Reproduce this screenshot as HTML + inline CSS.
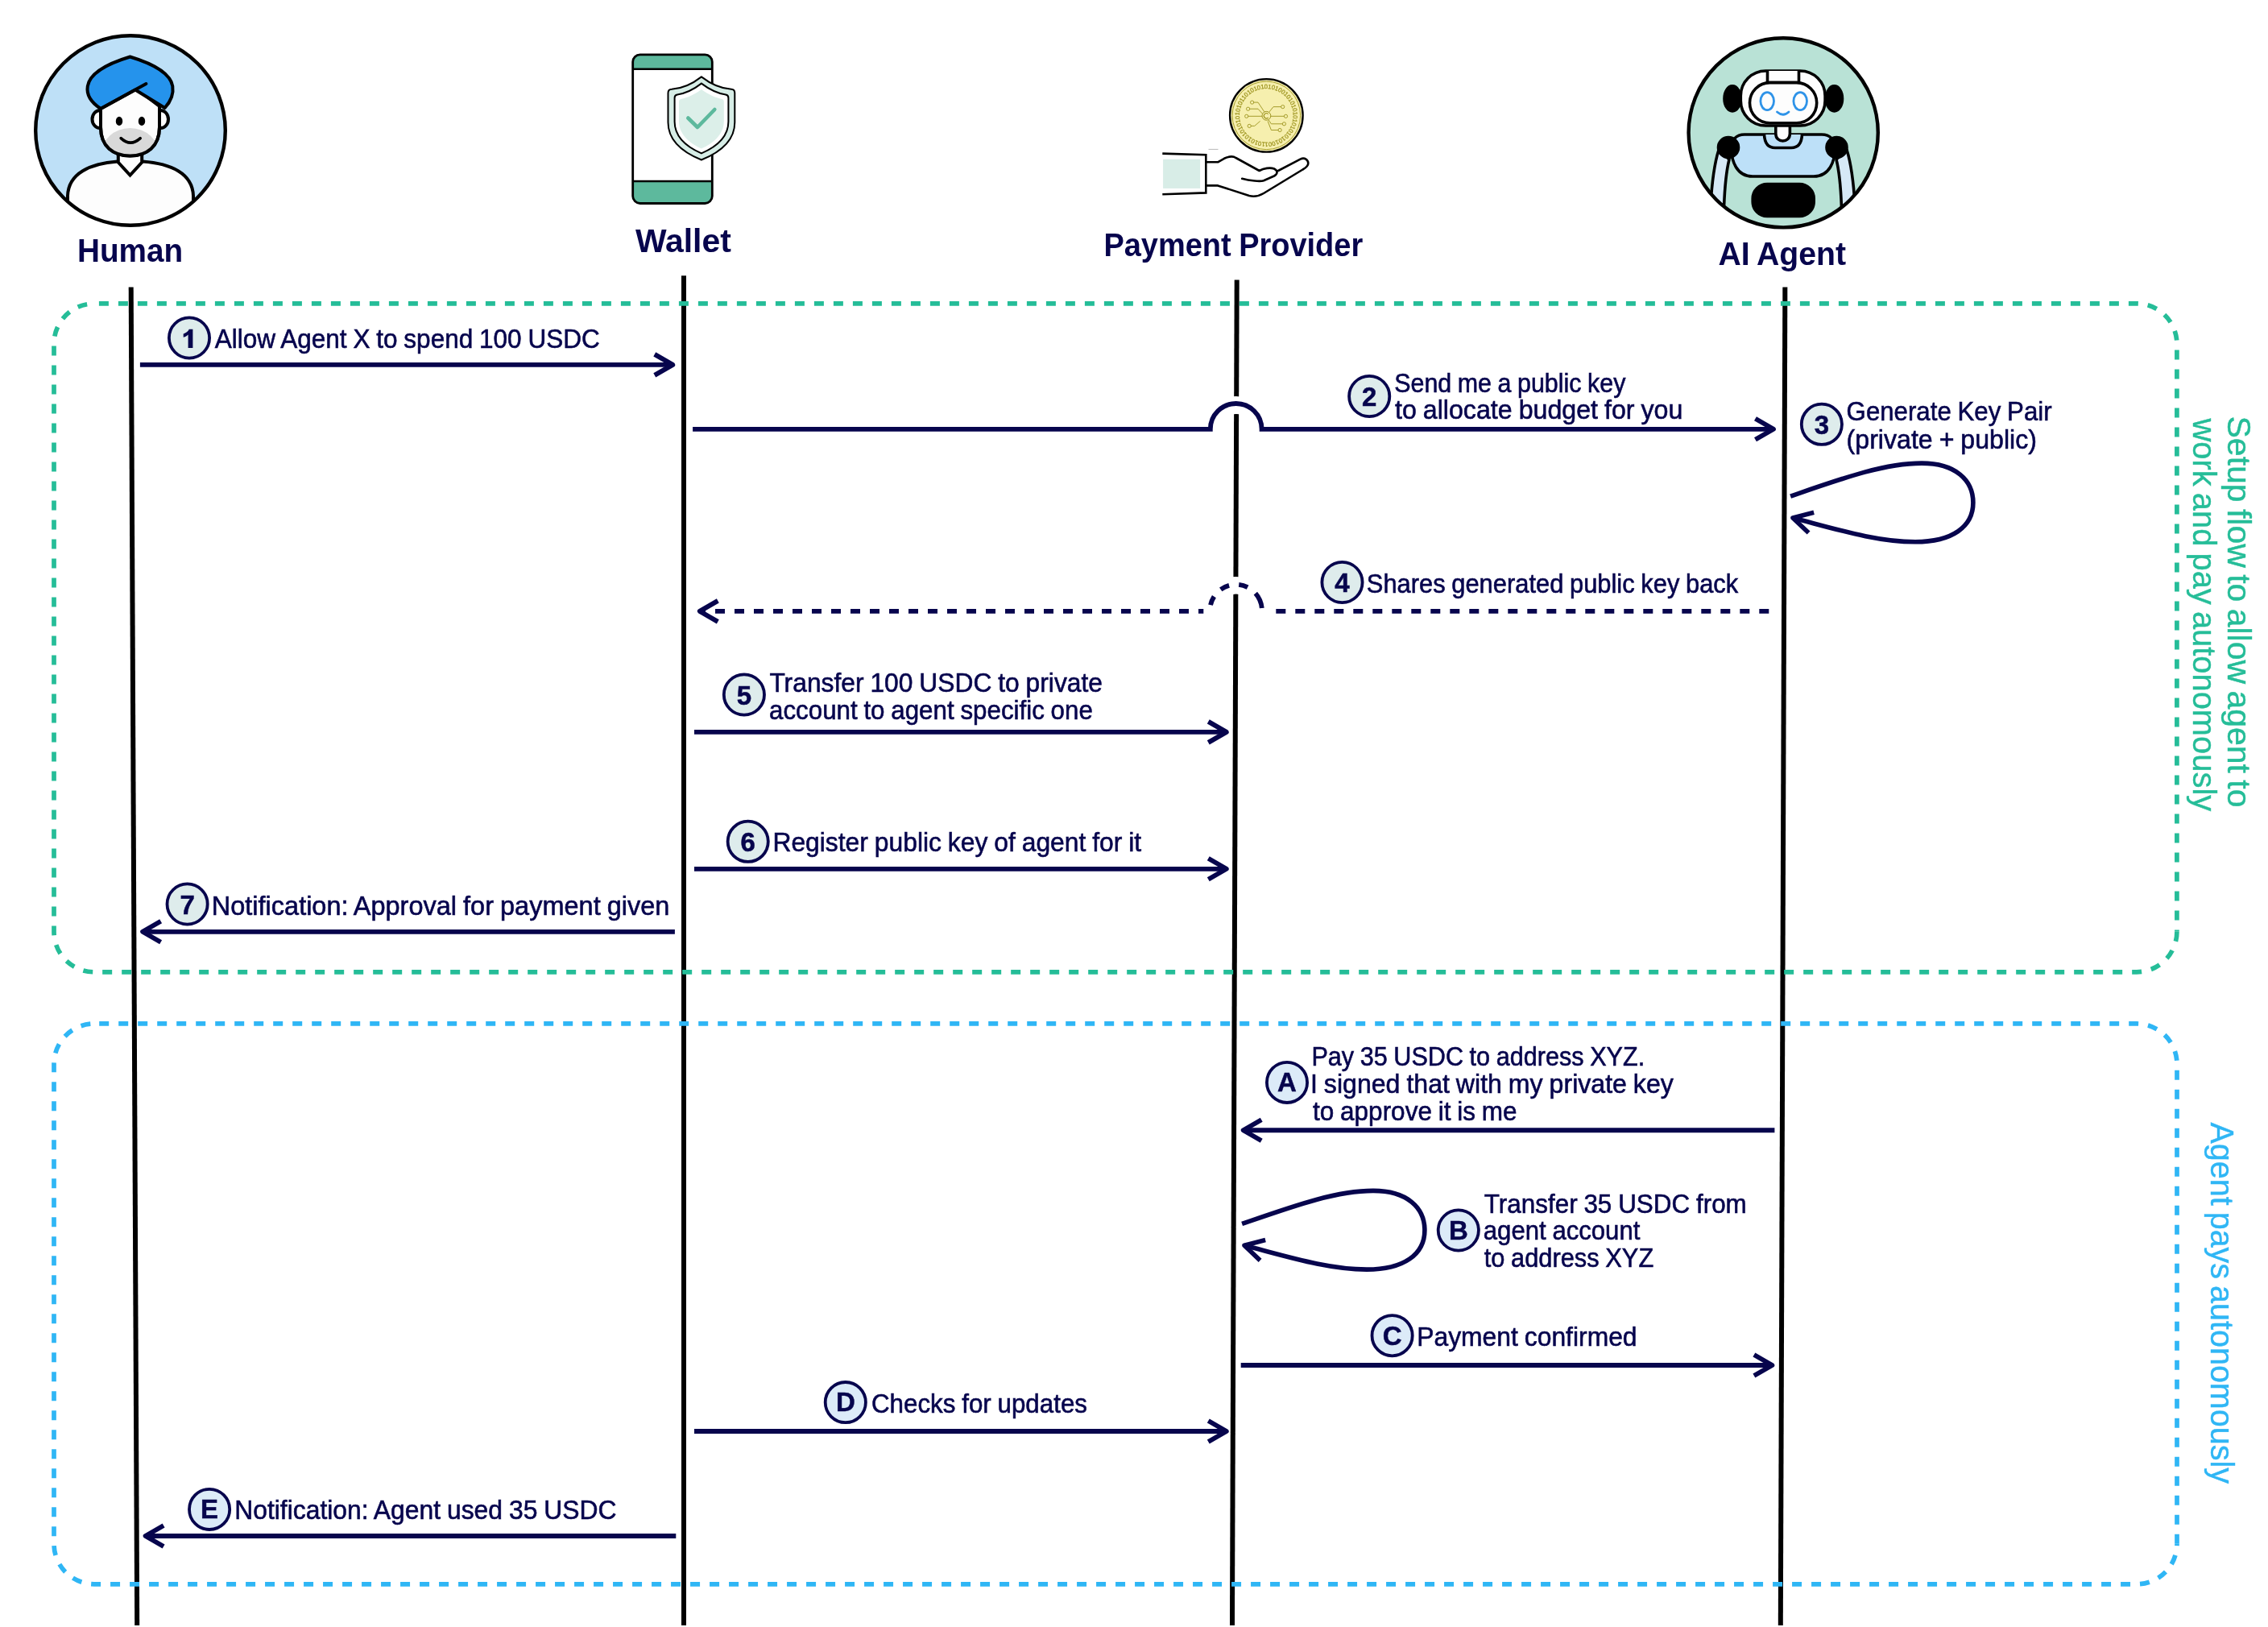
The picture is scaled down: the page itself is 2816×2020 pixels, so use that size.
<!DOCTYPE html>
<html><head><meta charset="utf-8"><title>Agent payment sequence</title>
<style>
html,body{margin:0;padding:0;background:#fff;}
body{width:2816px;height:2020px;overflow:hidden;}
svg{display:block;will-change:transform;}
svg text{font-family:"Liberation Sans",sans-serif;}
</style></head><body>
<svg width="2816" height="2020" viewBox="0 0 2816 2020">
<rect width="2816" height="2020" fill="#fff"/>
<line x1="162.7" y1="356.4" x2="170.2" y2="2018" stroke="#000" stroke-width="6.0"/>
<line x1="849.0" y1="342.2" x2="849.0" y2="2018" stroke="#000" stroke-width="6.0"/>
<line x1="1535.7" y1="347.5" x2="1529.97" y2="2018" stroke="#000" stroke-width="6.0"/>
<line x1="2216.35" y1="356.6" x2="2210.8" y2="2018" stroke="#000" stroke-width="6.0"/>
<path d="M117,376.9 H2652.9 A50,50 0 0 1 2702.9,426.9 V1156.8" fill="none" stroke="#25BD98" stroke-width="5.7" stroke-dasharray="12 12" stroke-dashoffset="18.1"/>
<path d="M2702.9,1156.8 A50,50 0 0 1 2652.9,1206.8 H117 A50,50 0 0 1 67,1156.8 V426.9 A50,50 0 0 1 117,376.9" fill="none" stroke="#25BD98" stroke-width="5.7" stroke-dasharray="12 12" stroke-dashoffset="23.86"/>
<path d="M117,1270.95 H2653 A50,50 0 0 1 2703,1320.95 V1916.8" fill="none" stroke="#2FB6F5" stroke-width="5.7" stroke-dasharray="12 12" stroke-dashoffset="17.8"/>
<path d="M2703,1916.8 A50,50 0 0 1 2653,1966.8 H117 A50,50 0 0 1 67,1916.8 V1320.95 A50,50 0 0 1 117,1270.95" fill="none" stroke="#2FB6F5" stroke-width="5.7" stroke-dasharray="12 12" stroke-dashoffset="9.66"/>
<line x1="173.9" y1="452.9" x2="835.3" y2="452.9" stroke="#07054D" stroke-width="5.85"/>
<path d="M812.78,465.90 L835.30,452.90 L812.78,439.90" fill="none" stroke="#07054D" stroke-width="5.85" stroke-linejoin="round" stroke-linecap="butt"/>
<path d="M1504.8,532.8 A29.9,29.9 0 0 1 1564.6000000000001,532.8" fill="none" stroke="#fff" stroke-width="22"/>
<path d="M860.1,532.8 L1502.8,532.8 A31.9,31.9 0 0 1 1566.6000000000001,532.8 L2202,532.8" fill="none" stroke="#07054D" stroke-width="5.85" stroke-linejoin="miter"/>
<path d="M2179.48,545.80 L2202.00,532.80 L2179.48,519.80" fill="none" stroke="#07054D" stroke-width="5.85" stroke-linejoin="round" stroke-linecap="butt"/>
<path d="M1503.3,758.0 A31.299999999999997,31.299999999999997 0 0 1 1565.8999999999999,758.0" fill="none" stroke="#fff" stroke-width="21.5"/>
<path d="M2196.3,758.9 L1584,758.9" fill="none" stroke="#07054D" stroke-width="5.85" stroke-dasharray="12 12"/>
<path d="M1566.8999999999999,758.0 A32.3,32.3 0 0 0 1502.3,758.0" fill="none" stroke="#07054D" stroke-width="5.85" stroke-dasharray="0 3 20.3 12.3 11.4 12.3 11.5 12.1 11.5 100"/>
<path d="M1494.3,758.9 L868.8,758.9" fill="none" stroke="#07054D" stroke-width="5.85" stroke-dasharray="12 12" stroke-dashoffset="5.7"/>
<path d="M891.32,745.90 L868.80,758.90 L891.32,771.90" fill="none" stroke="#07054D" stroke-width="5.85" stroke-linejoin="round" stroke-linecap="butt"/>
<line x1="862" y1="908.9" x2="1522.8" y2="908.9" stroke="#07054D" stroke-width="5.85"/>
<path d="M1500.28,921.90 L1522.80,908.90 L1500.28,895.90" fill="none" stroke="#07054D" stroke-width="5.85" stroke-linejoin="round" stroke-linecap="butt"/>
<line x1="862" y1="1078.8" x2="1522.8" y2="1078.8" stroke="#07054D" stroke-width="5.85"/>
<path d="M1500.28,1091.80 L1522.80,1078.80 L1500.28,1065.80" fill="none" stroke="#07054D" stroke-width="5.85" stroke-linejoin="round" stroke-linecap="butt"/>
<line x1="837.9" y1="1156.8" x2="177.1" y2="1156.8" stroke="#07054D" stroke-width="5.85"/>
<path d="M199.62,1143.80 L177.10,1156.80 L199.62,1169.80" fill="none" stroke="#07054D" stroke-width="5.85" stroke-linejoin="round" stroke-linecap="butt"/>
<line x1="2203.4" y1="1403.2" x2="1543.7" y2="1403.2" stroke="#07054D" stroke-width="5.85"/>
<path d="M1566.22,1390.20 L1543.70,1403.20 L1566.22,1416.20" fill="none" stroke="#07054D" stroke-width="5.85" stroke-linejoin="round" stroke-linecap="butt"/>
<line x1="1540.7" y1="1695.0" x2="2200.4" y2="1695.0" stroke="#07054D" stroke-width="5.85"/>
<path d="M2177.88,1708.00 L2200.40,1695.00 L2177.88,1682.00" fill="none" stroke="#07054D" stroke-width="5.85" stroke-linejoin="round" stroke-linecap="butt"/>
<line x1="862" y1="1777.0" x2="1522.8" y2="1777.0" stroke="#07054D" stroke-width="5.85"/>
<path d="M1500.28,1790.00 L1522.80,1777.00 L1500.28,1764.00" fill="none" stroke="#07054D" stroke-width="5.85" stroke-linejoin="round" stroke-linecap="butt"/>
<line x1="839.3" y1="1907.0" x2="180.6" y2="1907.0" stroke="#07054D" stroke-width="5.85"/>
<path d="M203.12,1894.00 L180.60,1907.00 L203.12,1920.00" fill="none" stroke="#07054D" stroke-width="5.85" stroke-linejoin="round" stroke-linecap="butt"/>
<path d="M2223.1,616.1 C2290.0,593.0 2340.0,575.1 2386.0,575.1 C2428.0,575.1 2449.9,596.0 2449.9,624.1 C2449.9,654.0 2424.0,672.8 2378.0,672.8 C2330.0,672.8 2280.0,657.0 2226.0,643.0" fill="none" stroke="#07054D" stroke-width="5.6"/>
<path d="M2252.14,636.24 L2226.00,643.00 L2245.59,661.59" fill="none" stroke="#07054D" stroke-width="5.6" stroke-linejoin="round" stroke-linecap="butt"/>
<path d="M1542.1,1519.4 C1609.0,1496.3 1659.0,1478.4 1705.0,1478.4 C1747.0,1478.4 1768.9,1499.3 1768.9,1527.4 C1768.9,1557.3 1743.0,1576.1 1697.0,1576.1 C1649.0,1576.1 1599.0,1560.3 1545.0,1546.3" fill="none" stroke="#07054D" stroke-width="5.6"/>
<path d="M1571.14,1539.54 L1545.00,1546.30 L1564.59,1564.89" fill="none" stroke="#07054D" stroke-width="5.6" stroke-linejoin="round" stroke-linecap="butt"/>
<circle cx="235" cy="419.5" r="25.1" fill="#DEECEC" stroke="#07054D" stroke-width="3.8"/>
<path d="M239.40,408.80 L234.80,408.80 C233.50,411.50 230.80,413.60 227.70,414.60 L227.70,418.80 C230.20,418.00 232.20,416.80 233.60,415.40 L233.60,432.00 L239.40,432.00 Z" fill="#07054D"/>
<circle cx="1700.2" cy="492" r="25.1" fill="#DEECEC" stroke="#07054D" stroke-width="3.8"/>
<text x="1700.2" y="504.0" text-anchor="middle" font-size="33" font-weight="700" fill="#07054D" stroke="#07054D" stroke-width="0.5">2</text>
<circle cx="2261.9" cy="526.8" r="25.1" fill="#DEECEC" stroke="#07054D" stroke-width="3.8"/>
<text x="2261.9" y="538.8" text-anchor="middle" font-size="33" font-weight="700" fill="#07054D" stroke="#07054D" stroke-width="0.5">3</text>
<circle cx="1666.5" cy="723" r="25.1" fill="#DEECEC" stroke="#07054D" stroke-width="3.8"/>
<text x="1666.5" y="735.0" text-anchor="middle" font-size="33" font-weight="700" fill="#07054D" stroke="#07054D" stroke-width="0.5">4</text>
<circle cx="923.9" cy="862.5" r="25.1" fill="#DEECEC" stroke="#07054D" stroke-width="3.8"/>
<text x="923.9" y="874.5" text-anchor="middle" font-size="33" font-weight="700" fill="#07054D" stroke="#07054D" stroke-width="0.5">5</text>
<circle cx="928.7" cy="1044.8" r="25.1" fill="#DEECEC" stroke="#07054D" stroke-width="3.8"/>
<text x="928.7" y="1056.8" text-anchor="middle" font-size="33" font-weight="700" fill="#07054D" stroke="#07054D" stroke-width="0.5">6</text>
<circle cx="232.6" cy="1122.5" r="25.1" fill="#DEECEC" stroke="#07054D" stroke-width="3.8"/>
<text x="232.6" y="1134.5" text-anchor="middle" font-size="33" font-weight="700" fill="#07054D" stroke="#07054D" stroke-width="0.5">7</text>
<circle cx="1598" cy="1343.9" r="25.1" fill="#DCEBF8" stroke="#07054D" stroke-width="3.8"/>
<text x="1598" y="1355.2" text-anchor="middle" font-size="33" font-weight="700" fill="#07054D" stroke="#07054D" stroke-width="0.5">A</text>
<circle cx="1810.8" cy="1527.5" r="25.1" fill="#DCEBF8" stroke="#07054D" stroke-width="3.8"/>
<text x="1810.8" y="1538.8" text-anchor="middle" font-size="33" font-weight="700" fill="#07054D" stroke="#07054D" stroke-width="0.5">B</text>
<circle cx="1728.6" cy="1658.2" r="25.1" fill="#DCEBF8" stroke="#07054D" stroke-width="3.8"/>
<text x="1728.6" y="1669.5" text-anchor="middle" font-size="33" font-weight="700" fill="#07054D" stroke="#07054D" stroke-width="0.5">C</text>
<circle cx="1049.8" cy="1741.1" r="25.1" fill="#DCEBF8" stroke="#07054D" stroke-width="3.8"/>
<text x="1049.8" y="1752.3999999999999" text-anchor="middle" font-size="33" font-weight="700" fill="#07054D" stroke="#07054D" stroke-width="0.5">D</text>
<circle cx="260.1" cy="1873.9" r="25.1" fill="#DCEBF8" stroke="#07054D" stroke-width="3.8"/>
<text x="260.1" y="1885.2" text-anchor="middle" font-size="33" font-weight="700" fill="#07054D" stroke="#07054D" stroke-width="0.5">E</text>
<text x="266.8" y="432.0" font-size="33.5" word-spacing="-1" fill="#07054D" stroke="#07054D" stroke-width="0.6" textLength="478.0" lengthAdjust="spacingAndGlyphs">Allow Agent X to spend 100 USDC</text>
<text x="1731.2" y="487.2" font-size="33.5" word-spacing="-1" fill="#07054D" stroke="#07054D" stroke-width="0.6" textLength="287.2" lengthAdjust="spacingAndGlyphs">Send me a public key</text>
<text x="1732.0" y="520.4" font-size="33.5" word-spacing="-1" fill="#07054D" stroke="#07054D" stroke-width="0.6" textLength="357.4" lengthAdjust="spacingAndGlyphs">to allocate budget for you</text>
<text x="2292.6" y="522.4" font-size="33.5" word-spacing="-1" fill="#07054D" stroke="#07054D" stroke-width="0.6" textLength="255.0" lengthAdjust="spacingAndGlyphs">Generate Key Pair</text>
<text x="2292.6" y="556.6" font-size="33.5" word-spacing="-1" fill="#07054D" stroke="#07054D" stroke-width="0.6" textLength="236.4" lengthAdjust="spacingAndGlyphs">(private + public)</text>
<text x="1696.8" y="735.5" font-size="33.5" word-spacing="-1" fill="#07054D" stroke="#07054D" stroke-width="0.6" textLength="461.4" lengthAdjust="spacingAndGlyphs">Shares generated public key back</text>
<text x="955.4" y="858.8" font-size="33.5" word-spacing="-1" fill="#07054D" stroke="#07054D" stroke-width="0.6" textLength="413.6" lengthAdjust="spacingAndGlyphs">Transfer 100 USDC to private</text>
<text x="955.0" y="893.0" font-size="33.5" word-spacing="-1" fill="#07054D" stroke="#07054D" stroke-width="0.6" textLength="401.8" lengthAdjust="spacingAndGlyphs">account to agent specific one</text>
<text x="959.4" y="1056.9" font-size="33.5" word-spacing="-1" fill="#07054D" stroke="#07054D" stroke-width="0.6" textLength="457.8" lengthAdjust="spacingAndGlyphs">Register public key of agent for it</text>
<text x="262.8" y="1135.8" font-size="33.5" word-spacing="-1" fill="#07054D" stroke="#07054D" stroke-width="0.6" textLength="568.6" lengthAdjust="spacingAndGlyphs">Notification: Approval for payment given</text>
<text x="1628.4" y="1322.5" font-size="33.5" word-spacing="-1" fill="#07054D" stroke="#07054D" stroke-width="0.6" textLength="413.8" lengthAdjust="spacingAndGlyphs">Pay 35 USDC to address XYZ.</text>
<text x="1627.0" y="1356.6" font-size="33.5" word-spacing="-1" fill="#07054D" stroke="#07054D" stroke-width="0.6" textLength="450.8" lengthAdjust="spacingAndGlyphs">I signed that with my private key</text>
<text x="1630.0" y="1390.8" font-size="33.5" word-spacing="-1" fill="#07054D" stroke="#07054D" stroke-width="0.6" textLength="253.6" lengthAdjust="spacingAndGlyphs">to approve it is me</text>
<text x="1842.8" y="1505.5" font-size="33.5" word-spacing="-1" fill="#07054D" stroke="#07054D" stroke-width="0.6" textLength="326.0" lengthAdjust="spacingAndGlyphs">Transfer 35 USDC from</text>
<text x="1841.8" y="1539.0" font-size="33.5" word-spacing="-1" fill="#07054D" stroke="#07054D" stroke-width="0.6" textLength="194.6" lengthAdjust="spacingAndGlyphs">agent account</text>
<text x="1842.8" y="1572.5" font-size="33.5" word-spacing="-1" fill="#07054D" stroke="#07054D" stroke-width="0.6" textLength="210.4" lengthAdjust="spacingAndGlyphs">to address XYZ</text>
<text x="1759.2" y="1670.7" font-size="33.5" word-spacing="-1" fill="#07054D" stroke="#07054D" stroke-width="0.6" textLength="273.4" lengthAdjust="spacingAndGlyphs">Payment confirmed</text>
<text x="1082.0" y="1753.5" font-size="33.5" word-spacing="-1" fill="#07054D" stroke="#07054D" stroke-width="0.6" textLength="268.0" lengthAdjust="spacingAndGlyphs">Checks for updates</text>
<text x="291.2" y="1886.3" font-size="33.5" word-spacing="-1" fill="#07054D" stroke="#07054D" stroke-width="0.6" textLength="474.4" lengthAdjust="spacingAndGlyphs">Notification: Agent used 35 USDC</text>
<text x="96" y="325.2" font-size="40" font-weight="700" word-spacing="-1" fill="#07054D" textLength="131.2" lengthAdjust="spacingAndGlyphs">Human</text>
<text x="788.9" y="313" font-size="40" font-weight="700" word-spacing="-1" fill="#07054D" textLength="118.9" lengthAdjust="spacingAndGlyphs">Wallet</text>
<text x="1370.4" y="317.5" font-size="40" font-weight="700" word-spacing="-1" fill="#07054D" textLength="321.8" lengthAdjust="spacingAndGlyphs">Payment Provider</text>
<text x="2133.4" y="329.4" font-size="40" font-weight="700" word-spacing="-1" fill="#07054D" textLength="158.6" lengthAdjust="spacingAndGlyphs">AI Agent</text>
<text transform="translate(2766.2,516.5) rotate(90)" x="0" y="0" font-size="40.3" word-spacing="-3" fill="#25BD98" stroke="#25BD98" stroke-width="0.4" textLength="486.0" lengthAdjust="spacingAndGlyphs">Setup flow to allow agent to</text>
<text transform="translate(2723,519.5) rotate(90)" x="0" y="0" font-size="40.3" word-spacing="-3" fill="#25BD98" stroke="#25BD98" stroke-width="0.4" textLength="487.7" lengthAdjust="spacingAndGlyphs">work and pay autonomously</text>
<text transform="translate(2744.6,1393.5) rotate(90)" x="0" y="0" font-size="40.3" word-spacing="-3" fill="#2FB6F5" stroke="#2FB6F5" stroke-width="0.4" textLength="448.4" lengthAdjust="spacingAndGlyphs">Agent pays autonomously</text>
<g id="human">
<defs><clipPath id="hc"><circle cx="162" cy="162" r="117.8"/></clipPath>
<clipPath id="facec"><path d="M125,132 L125,158 C125,182 141,193.5 161.5,193.5 C182,193.5 198,182 198,158 L198,132 L169,110 Z"/></clipPath></defs>
<circle cx="162" cy="162" r="117.8" fill="#BEE0F7"/>
<g clip-path="url(#hc)" stroke="#000" stroke-width="4" stroke-linejoin="round">
 <path d="M84,290 L84,243 C85,215 112,203 146,200.5 L177,200.5 C212,203 239,215 240,243 L240,290 Z" fill="#FDFDFD"/>
</g>
<g stroke="#000" stroke-width="4" stroke-linejoin="miter" fill="#FDFDFD">
 <path d="M146.8,188 L146.8,201.5 L161.5,217.5 L176.2,201.5 L176.2,188"/>
 <ellipse cx="124" cy="148" rx="9.5" ry="11"/>
 <ellipse cx="199.5" cy="148" rx="9.5" ry="11"/>
 <path d="M125,132 L125,158 C125,182 141,193.5 161.5,193.5 C182,193.5 198,182 198,158 L198,132 L169,110 Z"/>
</g>
<g clip-path="url(#facec)"><ellipse cx="161.5" cy="192" rx="36" ry="33" fill="#D9D9D9"/></g>
<path d="M125,132 L125,158 C125,182 141,193.5 161.5,193.5 C182,193.5 198,182 198,158 L198,132" fill="none" stroke="#000" stroke-width="4"/>
<ellipse cx="148" cy="150.4" rx="4.2" ry="5.6" fill="#000"/>
<ellipse cx="176" cy="150.4" rx="4.2" ry="5.6" fill="#000"/>
<path d="M150.2,171.6 Q162,182.6 174.2,171.6" fill="none" stroke="#000" stroke-width="3.6" stroke-linecap="round"/>
<path d="M125,135 C113,127 107,118 108.8,107 C112,88 140,77 161.5,70.5 C183,77 211,88 214.3,107 C216,118 211,127 204.6,134 L168,111.5 Z" fill="#2593EC" stroke="#000" stroke-width="4" stroke-linejoin="round"/>
<path d="M125,135 L181.4,104" fill="none" stroke="#000" stroke-width="4" stroke-linecap="round"/>
<circle cx="162" cy="162" r="117.8" fill="none" stroke="#000" stroke-width="4.4"/>
</g>
<g id="wallet">
<defs><clipPath id="pc"><rect x="785.7" y="67.8" width="98.6" height="184.7" rx="9" ry="9"/></clipPath></defs>
<rect x="785.7" y="67.8" width="98.6" height="184.7" rx="9" ry="9" fill="#fff"/>
<g clip-path="url(#pc)"><rect x="780" y="60" width="110" height="25.7" fill="#5DB99D"/><rect x="780" y="225" width="110" height="30" fill="#5DB99D"/></g>
<line x1="785.7" y1="85.7" x2="884.3" y2="85.7" stroke="#000" stroke-width="2.6"/>
<line x1="785.7" y1="225" x2="884.3" y2="225" stroke="#000" stroke-width="2.6"/>
<rect x="785.7" y="67.8" width="98.6" height="184.7" rx="9" ry="9" fill="none" stroke="#000" stroke-width="2.8"/>
<path d="M870.9,95.4 C860,104 846,110 834,110.8 Q829.5,111 829.5,115.5 L829.5,152 C829.5,176 850,190 870.9,198.5 C892,190 912.3,176 912.3,152 L912.3,115.5 Q912.3,111 908,110.8 C896,110 882,104 870.9,95.4 Z" fill="#D6EDE6" stroke="#000" stroke-width="2"/>
<path d="M870.9,103.6 C862,110.5 850,116 841,117.5 Q837.6,118 837.6,121.5 L837.6,151 C837.6,171 854,183 870.9,190.4 C888,183 904.4,171 904.4,151 L904.4,121.5 Q904.4,118 901,117.5 C892,116 880,110.5 870.9,103.6 Z" fill="#FFFFFF" stroke="#000" stroke-width="2"/>
<path d="M870.9,111 C863,117 853,121.5 845.5,123 Q843,123.5 843,126 L843,150.5 C843,167.5 857,178 870.9,184.6 C885,178 898.8,167.5 898.8,150.5 L898.8,126 Q898.8,123.5 896.3,123 C889,121.5 879,117 870.9,111 Z" fill="#DCEFE9"/>
<path d="M854.3,146.5 L866,158 L887.3,136" fill="none" stroke="#5DB99D" stroke-width="4.6" stroke-linecap="round" stroke-linejoin="round"/>
</g>
<g id="coin"><circle cx="1572.35" cy="143.35" r="45.3" fill="#F6EFAE" stroke="#000" stroke-width="2.3"/>
<circle cx="1572.35" cy="143.35" r="42.3" fill="none" stroke="#9C931E" stroke-width="0.9"/>
<defs><path id="ring" d="M1538.9499999999998,143.35 a33.4,33.4 0 1 1 66.8,0 a33.4,33.4 0 1 1 -66.8,0"/></defs>
<text font-size="7.6" fill="#9C931E" stroke="#9C931E" stroke-width="0.25"><textPath href="#ring" textLength="209" lengthAdjust="spacing">10101101010101010010101010101010101001101010101010</textPath></text>
<path d="M1556.5,127.1 L1562.0,127.1 L1569.8,138.8" fill="none" stroke="#9C931E" stroke-width="0.9"/>
<path d="M1551.5,135.2 L1562.0,135.2 L1567.5,141.2" fill="none" stroke="#9C931E" stroke-width="0.9"/>
<path d="M1549.6,144.3 L1567.2,144.3" fill="none" stroke="#9C931E" stroke-width="0.9"/>
<path d="M1553.1,156.4 L1557.7,156.4 L1564.6,150.4" fill="none" stroke="#9C931E" stroke-width="0.9"/>
<path d="M1590.8,132.6 L1581.0,132.6 L1575.5,139.5" fill="none" stroke="#9C931E" stroke-width="0.9"/>
<path d="M1594.6,144.3 L1577.9,144.3" fill="none" stroke="#9C931E" stroke-width="0.9"/>
<path d="M1592.5,153.8 L1578.4,153.8 L1574.9,148.6" fill="none" stroke="#9C931E" stroke-width="0.9"/>
<path d="M1587.2,161.5 L1578.4,161.5 L1574.1,150.4" fill="none" stroke="#9C931E" stroke-width="0.9"/>
<circle cx="1554.6" cy="127.1" r="2.1" fill="none" stroke="#9C931E" stroke-width="0.9"/>
<circle cx="1549.6" cy="135.2" r="2.1" fill="none" stroke="#9C931E" stroke-width="0.9"/>
<circle cx="1547.7" cy="144.3" r="2.1" fill="none" stroke="#9C931E" stroke-width="0.9"/>
<circle cx="1551.2" cy="156.4" r="2.1" fill="none" stroke="#9C931E" stroke-width="0.9"/>
<circle cx="1592.7" cy="132.6" r="2.1" fill="none" stroke="#9C931E" stroke-width="0.9"/>
<circle cx="1596.5" cy="144.3" r="2.1" fill="none" stroke="#9C931E" stroke-width="0.9"/>
<circle cx="1594.4" cy="153.8" r="2.1" fill="none" stroke="#9C931E" stroke-width="0.9"/>
<circle cx="1589.1" cy="161.5" r="2.1" fill="none" stroke="#9C931E" stroke-width="0.9"/>
<circle cx="1572.4" cy="143.8" r="5.4" fill="#F6EFAE" stroke="#9C931E" stroke-width="1"/>
<path d="M1574.6,141.6 A3.1,3.1 0 1 0 1574.6,146.0" fill="none" stroke="#9C931E" stroke-width="1.1"/></g>
<g id="hand"><rect x="1444.1" y="197.7" width="46" height="36.2" fill="#D8EDE7"/>
<line x1="1500.5" y1="185.4" x2="1512.5" y2="185.4" stroke="#9a9a9a" stroke-width="0.7"/>
<path d="M1443.3,190.6 L1497.3,192.2 L1497.3,239.4 L1443.3,241.2" fill="none" stroke="#000" stroke-width="2.6"/>
<path d="M1497.3,201.2 L1512.5,201.2 Q1516,199 1520,196.8 C1526,194 1531,193.5 1534.5,196 L1563.6,212 C1569,209 1577,207.5 1582,209.5 C1587,212 1586.5,216 1582,218.5 L1569,224.2 C1565,225.6 1552,224.5 1542.2,221.8" fill="none" stroke="#000" stroke-width="2.6" stroke-linecap="round" stroke-linejoin="round"/>
<path d="M1587,212 L1614.5,197.6 C1620,195 1624.3,198.5 1624.3,202.8 C1624.3,206 1622,208 1617.5,210.5 L1569,240 C1563,243.5 1557,244.6 1551,243 L1512.1,230.4 L1497.3,230.4" fill="none" stroke="#000" stroke-width="2.6" stroke-linecap="round" stroke-linejoin="round"/></g>
<g id="robot">
<defs><clipPath id="rc"><circle cx="2214.2" cy="164.8" r="117.6"/></clipPath></defs>
<circle cx="2214.2" cy="164.8" r="117.6" fill="#B9E2D6"/>
<g clip-path="url(#rc)" stroke="#000" stroke-width="3.6" stroke-linejoin="round">
 <!-- arms -->
 <path d="M2134,186 C2128,205 2123.5,240 2122.5,290 L2140,290 C2140,250 2142,218 2147,198 Z" fill="#D6E9F7"/>
 <path d="M2293,186 C2299,205 2303.5,240 2304.5,290 L2287,290 C2287,250 2285,218 2280,198 Z" fill="#D6E9F7"/>
 <!-- body -->
 <path d="M2166,167 L2262,167 C2272,167 2279,174 2278.5,184 C2278,200 2272,219 2252,219 L2176,219 C2156,219 2150,200 2149.5,184 C2149,174 2156,167 2166,167 Z" fill="#BDE0F8"/>
 <path d="M2190.5,167 C2191,178 2196,183.5 2204,183.5 L2224,183.5 C2232,183.5 2237,178 2237.5,167" fill="#BDE0F8"/>
 <!-- shoulders -->
 <circle cx="2146" cy="183" r="12.5" fill="#000"/>
 <circle cx="2280.5" cy="183" r="12.5" fill="#000"/>
 <!-- belly -->
 <rect x="2176.2" y="228.5" width="76" height="40" rx="18" ry="18" fill="#000"/>
 <!-- neck -->
 <path d="M2204.8,152 L2204.8,166 C2204.8,178 2222.4,178 2222.4,166 L2222.4,152 Z" fill="#FDFDFD"/>
 <!-- ears -->
 <ellipse cx="2151" cy="122.4" rx="10" ry="15.5" fill="#000"/>
 <ellipse cx="2277.5" cy="122.4" rx="10" ry="15.5" fill="#000"/>
 <!-- head -->
 <rect x="2161.3" y="88" width="104.8" height="68" rx="31" ry="31" fill="#FDFDFD"/>
 <path d="M2194.5,88 L2194.5,102.6 L2233.5,102.6 L2233.5,88" fill="#FDFDFD"/>
 <rect x="2172.5" y="102.6" width="83.2" height="50.2" rx="25" ry="25" fill="#FDFDFD"/>
</g>
<ellipse cx="2194.2" cy="125.6" rx="8.3" ry="11" fill="none" stroke="#2E93E8" stroke-width="2.8"/>
<ellipse cx="2235.2" cy="125.6" rx="8.3" ry="11" fill="none" stroke="#2E93E8" stroke-width="2.8"/>
<path d="M2206.5,139 Q2214,145.5 2221,139" fill="none" stroke="#2E93E8" stroke-width="2.8" stroke-linecap="round"/>
<circle cx="2214.2" cy="164.8" r="117.6" fill="none" stroke="#000" stroke-width="4.4"/>
</g>
</svg>
</body></html>
